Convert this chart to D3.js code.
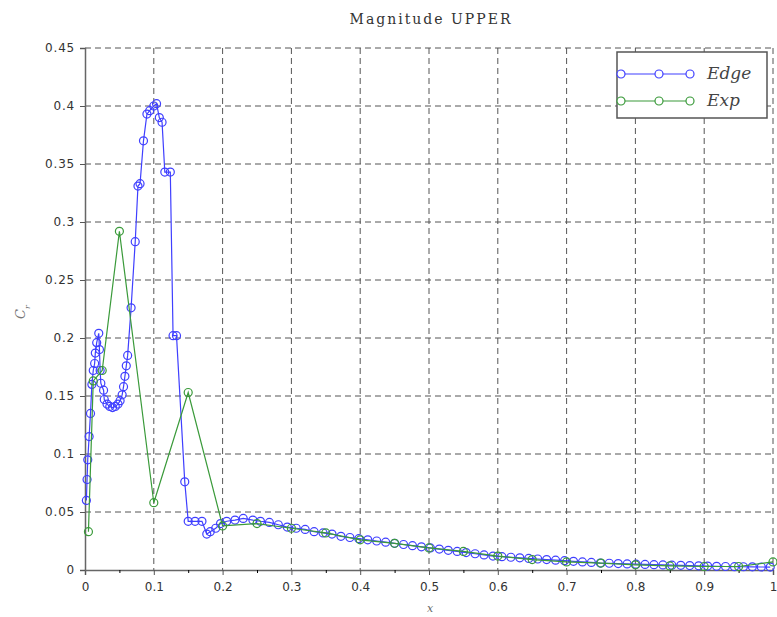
<!DOCTYPE html>
<html>
<head>
<meta charset="utf-8">
<script src="https://cdn.jsdelivr.net/npm/d3@7"></script>
<style>
  body { margin: 0; background: #fff; }
  svg { display: block; }
</style>
</head>
<body>
<div id="chart"></div>
<script>
// Chord position and magnitude for the upper surface
const edgeX = [0.002, 0.003, 0.004, 0.006, 0.008, 0.010, 0.012, 0.014, 0.015, 0.017, 0.020,
  0.021, 0.022, 0.023, 0.027, 0.028, 0.032, 0.036, 0.040, 0.044, 0.048, 0.051, 0.054, 0.056,
  0.058, 0.060, 0.062, 0.067, 0.073, 0.077, 0.080, 0.085, 0.090, 0.094, 0.100, 0.104, 0.108,
  0.112, 0.116, 0.124, 0.128, 0.133, 0.145, 0.150, 0.160, 0.170, 0.177, 0.182, 0.190, 0.197,
  0.206, 0.218, 0.230, 0.244, 0.255, 0.268, 0.281, 0.294, 0.307, 0.320, 0.333, 0.346, 0.359,
  0.372, 0.385, 0.398, 0.411, 0.424, 0.437, 0.450, 0.463, 0.476, 0.489, 0.502, 0.515, 0.528,
  0.541, 0.554, 0.567, 0.580, 0.593, 0.606, 0.619, 0.632, 0.645, 0.658, 0.671, 0.684, 0.697,
  0.710, 0.723, 0.736, 0.749, 0.762, 0.775, 0.788, 0.801, 0.814, 0.827, 0.840, 0.853, 0.866,
  0.879, 0.892, 0.905, 0.918, 0.931, 0.944, 0.957, 0.970, 0.983, 0.996];
const edgeY = [0.060, 0.078, 0.095, 0.115, 0.135, 0.160, 0.172, 0.178, 0.187, 0.196, 0.204,
  0.190, 0.172, 0.161, 0.155, 0.147, 0.143, 0.141, 0.140, 0.141, 0.143, 0.146, 0.151, 0.158,
  0.167, 0.176, 0.185, 0.226, 0.283, 0.331, 0.333, 0.370, 0.393, 0.396, 0.400, 0.402, 0.390,
  0.386, 0.343, 0.343, 0.202, 0.202, 0.076, 0.042, 0.042, 0.042, 0.031, 0.033, 0.036, 0.040,
  0.042, 0.043, 0.0445, 0.043, 0.042, 0.041, 0.039, 0.037, 0.036, 0.035, 0.033, 0.032, 0.031,
  0.029, 0.028, 0.027, 0.026, 0.025, 0.024, 0.023, 0.022, 0.021, 0.020, 0.019, 0.018, 0.017,
  0.016, 0.015, 0.014, 0.013, 0.012, 0.0115, 0.011, 0.0105, 0.010, 0.0095, 0.009, 0.0085, 0.008,
  0.0075, 0.007, 0.0065, 0.006, 0.0058, 0.0055, 0.0052, 0.005, 0.0048, 0.0046, 0.0044, 0.0042, 0.004,
  0.0038, 0.0036, 0.0034, 0.0032, 0.003, 0.0029, 0.0028, 0.0027, 0.0026, 0.0025];

const expX = [0.005, 0.012, 0.025, 0.050, 0.100, 0.150, 0.200, 0.250, 0.300, 0.350, 0.400,
  0.450, 0.500, 0.550, 0.600, 0.650, 0.700, 0.750, 0.800, 0.850, 0.900, 0.950, 1.000];
const expY = [0.033, 0.163, 0.172, 0.292, 0.058, 0.153, 0.038, 0.040, 0.036, 0.032, 0.026,
  0.023, 0.019, 0.016, 0.012, 0.009, 0.007, 0.006, 0.0045, 0.0035, 0.003, 0.003, 0.007];

const xTicks = [0, 0.1, 0.2, 0.3, 0.4, 0.5, 0.6, 0.7, 0.8, 0.9, 1];
const xTickLabels = ["0", "0.1", "0.2", "0.3", "0.4", "0.5", "0.6", "0.7", "0.8", "0.9", "1"];
const yTicks = [0, 0.05, 0.1, 0.15, 0.2, 0.25, 0.3, 0.35, 0.4, 0.45];
const yTickLabels = ["0", "0.05", "0.1", "0.15", "0.2", "0.25", "0.3", "0.35", "0.4", "0.45"];

const seriesNames = ["Edge", "Exp"];
const seriesColors = ["#3f3fff", "#3a9a3a"];

const width = 777, height = 617;
const margin = { top: 48, right: 4, bottom: 47, left: 85 };
const plotW = width - margin.left - margin.right;
const plotH = height - margin.top - margin.bottom;

const svg = d3.select("#chart").append("svg")
  .attr("width", width)
  .attr("height", height);

const g = svg.append("g")
  .attr("transform", `translate(${margin.left},${margin.top})`);

const x = d3.scaleLinear().domain([0, 1]).range([0, plotW]);
const y = d3.scaleLinear().domain([0, 0.45]).range([plotH, 0]);

// Dashed grid
g.append("g").selectAll("line").data(xTicks.slice(1)).join("line")
  .attr("x1", d => x(d)).attr("x2", d => x(d))
  .attr("y1", 0).attr("y2", plotH)
  .attr("stroke", "#555").attr("stroke-dasharray", "6,4");
g.append("g").selectAll("line").data(yTicks.slice(1)).join("line")
  .attr("x1", 0).attr("x2", plotW)
  .attr("y1", d => y(d)).attr("y2", d => y(d))
  .attr("stroke", "#555").attr("stroke-dasharray", "6,4");

// Axes
const xAxis = g.append("g")
  .attr("transform", `translate(0,${plotH})`)
  .call(d3.axisBottom(x).tickValues(xTicks).tickSize(5).tickPadding(7)
    .tickFormat((d, i) => xTickLabels[i]));
g.append("g")
  .attr("transform", `translate(0,${plotH})`)
  .call(d3.axisBottom(x).tickValues(d3.range(0.05, 1, 0.1)).tickSize(3).tickFormat(""))
  .call(a => a.select(".domain").remove());
const yAxis = g.append("g")
  .call(d3.axisLeft(y).tickValues(yTicks).tickSize(5).tickPadding(5)
    .tickFormat((d, i) => yTickLabels[i]));

[xAxis, yAxis].forEach(a => {
  a.select(".domain").attr("stroke", "#666").attr("stroke-width", 1.5);
  a.selectAll(".tick line").attr("stroke", "#555");
  a.selectAll("text").attr("fill", "#333")
    .style("font-family", "'DejaVu Sans', sans-serif").style("font-size", "12px");
});
yAxis.selectAll("text").style("letter-spacing", "0.8px");

// Series lines with hollow circle markers
function drawSeries(xs, ys, color) {
  const pts = xs.map((v, i) => [v, ys[i]]);
  g.append("path")
    .datum(pts)
    .attr("fill", "none")
    .attr("stroke", color)
    .attr("stroke-width", 1.2)
    .attr("d", d3.line().x(d => x(d[0])).y(d => y(d[1])));
  g.append("g").selectAll("circle").data(pts).join("circle")
    .attr("cx", d => x(d[0]))
    .attr("cy", d => y(d[1]))
    .attr("r", 4)
    .attr("fill", "none")
    .attr("stroke", color)
    .attr("stroke-width", 1.2);
}
drawSeries(edgeX, edgeY, seriesColors[0]);
drawSeries(expX, expY, seriesColors[1]);

// Title and axis labels
svg.append("text")
  .attr("x", 431).attr("y", 24)
  .attr("text-anchor", "middle")
  .style("font-family", "'DejaVu Serif', serif").style("font-size", "14px")
  .style("letter-spacing", "2px")
  .attr("fill", "#333")
  .text("Magnitude UPPER");

svg.append("text")
  .attr("x", 430).attr("y", 612)
  .attr("text-anchor", "middle")
  .style("font-family", "'DejaVu Serif', serif").style("font-size", "11px")
  .style("font-style", "italic")
  .attr("fill", "#666")
  .text("x");

svg.append("text")
  .attr("transform", "translate(25,312) rotate(-90)")
  .attr("text-anchor", "middle")
  .style("font-family", "'DejaVu Serif', serif").style("font-size", "13px")
  .style("font-style", "italic")
  .attr("fill", "#777")
  .text("C")
  .append("tspan")
  .attr("baseline-shift", "sub")
  .style("font-size", "8px")
  .text("r");

// Legend
const legend = svg.append("g").attr("transform", "translate(617,52)");
legend.append("rect")
  .attr("width", 150).attr("height", 66)
  .attr("fill", "#fff")
  .attr("stroke", "#555").attr("stroke-width", 1.5);
seriesNames.forEach((name, i) => {
  const ly = 22 + i * 27;
  legend.append("line")
    .attr("x1", 4).attr("x2", 73).attr("y1", ly).attr("y2", ly)
    .attr("stroke", seriesColors[i]).attr("stroke-width", 1.2);
  [4, 42, 73].forEach(cx => legend.append("circle")
    .attr("cx", cx).attr("cy", ly).attr("r", 4)
    .attr("fill", "#fff").attr("stroke", seriesColors[i]).attr("stroke-width", 1.2));
  legend.append("text")
    .attr("x", 90).attr("y", ly + 5)
    .style("font-family", "'DejaVu Serif', serif").style("font-size", "17px")
    .style("font-style", "italic")
    .attr("fill", "#444")
    .text(name);
});
</script>
</body>
</html>
